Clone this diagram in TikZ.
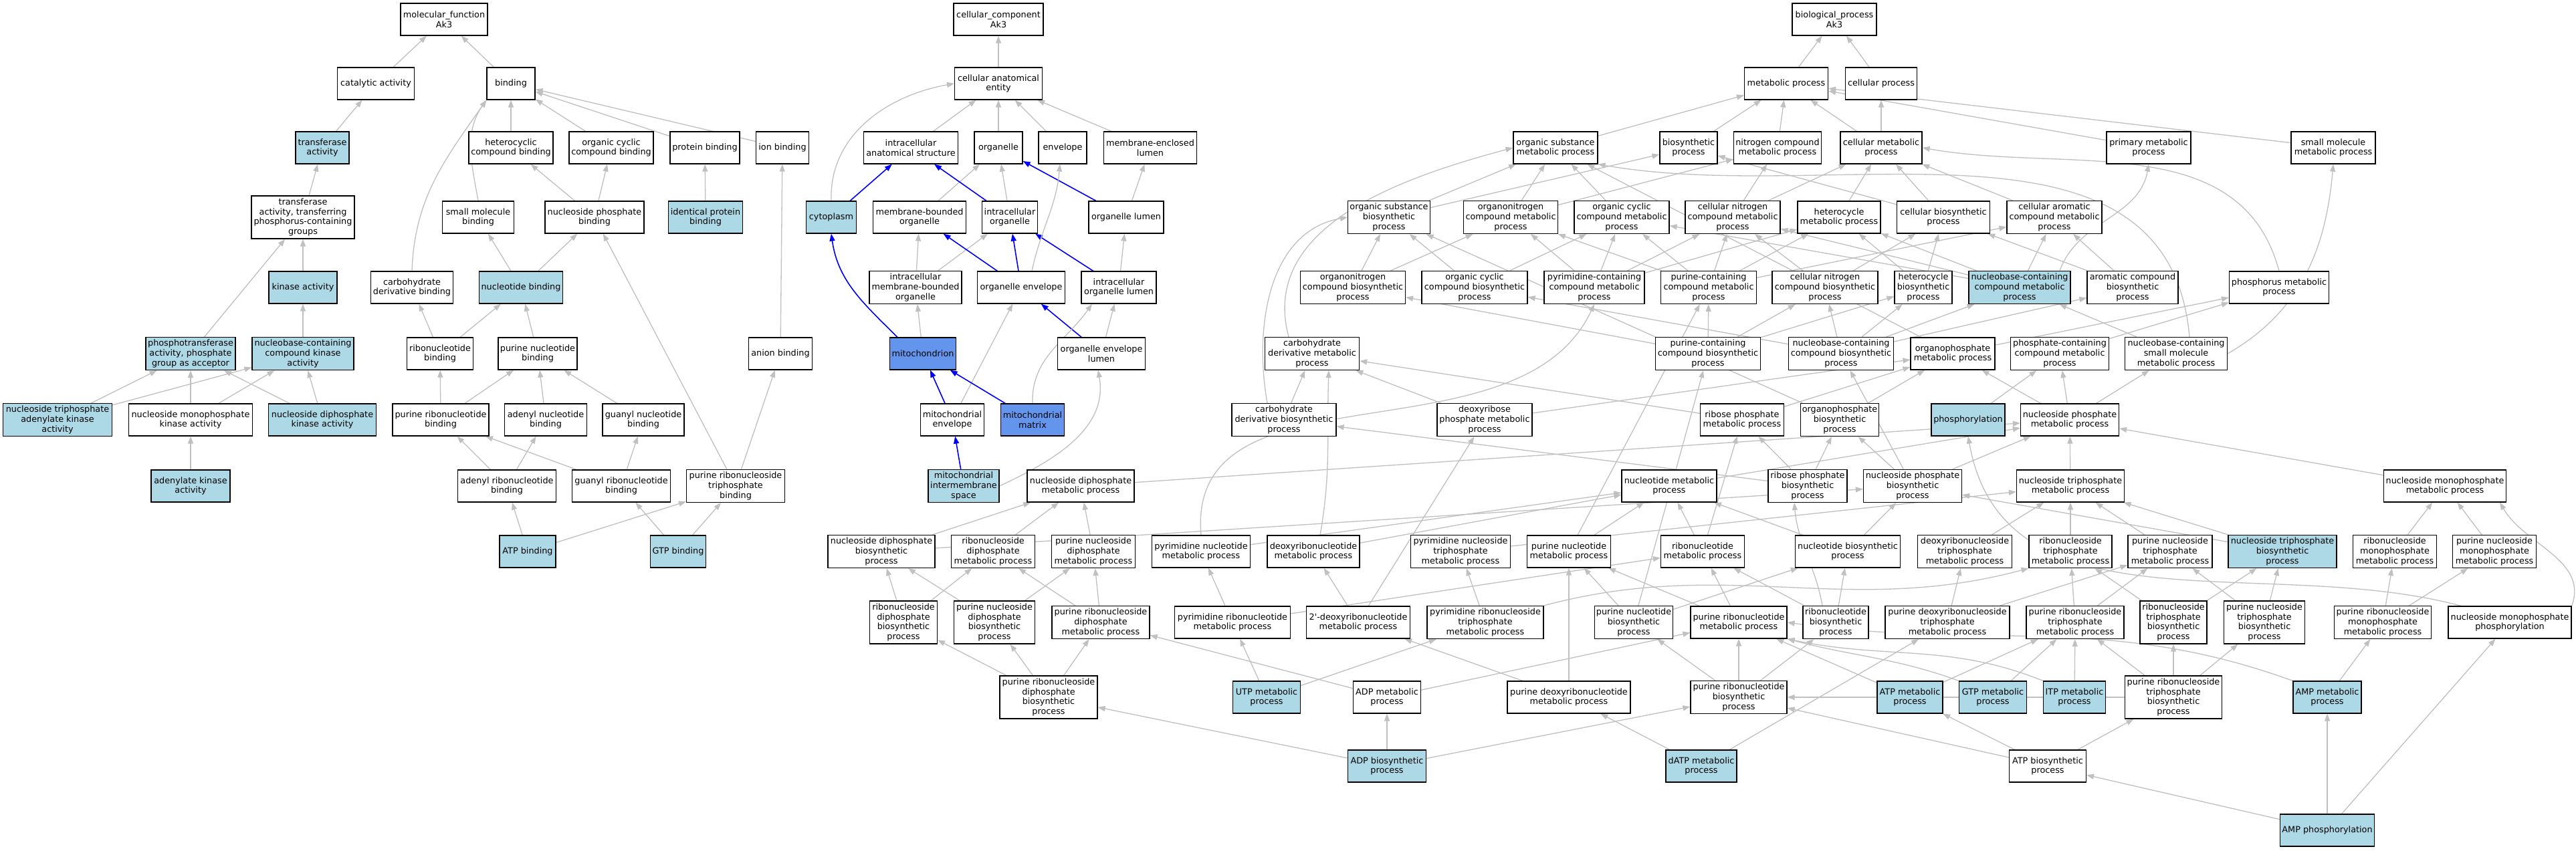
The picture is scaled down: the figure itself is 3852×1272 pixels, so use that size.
\documentclass[tikz,border=0pt]{standalone}
\usepackage{fontspec}
\setmainfont{DejaVu Sans}
\usetikzlibrary{arrows.meta,backgrounds}
\definecolor{lblue}{RGB}{173,216,230}
\definecolor{cblue}{RGB}{100,149,237}
\definecolor{egray}{RGB}{192,192,192}
\begin{document}
\begin{tikzpicture}[x=1pt,y=-1pt,
  box/.style={draw=black, line width=1.2pt, fill=white, align=center, inner sep=0pt,
    minimum height=48pt, font=\fontsize{12.8}{14.8}\selectfont},
  lb/.style={box, fill=lblue},
  cb/.style={box, fill=cblue},
  w/.style={minimum width=#1pt},
  h3/.style={minimum height=49pt},
  h4/.style={minimum height=64pt},
  ge/.style={draw=egray, line width=1.3pt, -{Triangle[length=11pt,width=8pt]}},
  be/.style={draw=blue, line width=1.6pt, -{Triangle[length=11pt,width=8pt]}}]
\useasboundingbox (0,0) rectangle (3852,1272);
% ---------------- molecular function
\node[box,w=130] (mf) at (664,29) {molecular\_function\\Ak3};
\node[box,w=115] (cat) at (562,125) {catalytic activity};
\node[box,w=72] (bind) at (764,125) {binding};
\node[lb,w=80] (trans) at (482,221) {transferase\\activity};
\node[box,w=126] (hetb) at (764,221) {heterocyclic\\compound binding};
\node[box,w=126] (ocb) at (914,221) {organic cyclic\\compound binding};
\node[box,w=104] (protb) at (1054,221) {protein binding};
\node[box,w=79] (ionb) at (1170,221) {ion binding};
\node[box,w=154,h4] (transP) at (453,325) {transferase\\activity, transferring\\phosphorus-containing\\groups};
\node[box,w=107] (smb) at (715,325) {small molecule\\binding};
\node[box,w=148] (npb) at (889,325) {nucleoside phosphate\\binding};
\node[lb,w=111] (idpb) at (1055,325) {identical protein\\binding};
\node[lb,w=102] (kin) at (453,430) {kinase activity};
\node[box,w=123] (cdb) at (616,430) {carbohydrate\\derivative binding};
\node[lb,w=125] (ntb) at (779,430) {nucleotide binding};
\node[box,w=95] (anb) at (1167,529) {anion binding};
\node[lb,w=134,h3] (phos) at (285,529) {phosphotransferase\\activity, phosphate\\group as acceptor};
\node[lb,w=152,h3] (nbk) at (453,529) {nucleobase-containing\\compound kinase\\activity};
\node[box,w=99] (rnb) at (658,529) {ribonucleotide\\binding};
\node[box,w=118] (pnb) at (804,529) {purine nucleotide\\binding};
\node[lb,w=163,h3] (ntak) at (86,628) {nucleoside triphosphate\\adenylate kinase\\activity};
\node[box,w=185] (nmpk) at (285,628) {nucleoside monophosphate\\kinase activity};
\node[lb,w=161] (ndpk) at (482,628) {nucleoside diphosphate\\kinase activity};
\node[box,w=144] (prnb) at (659,628) {purine ribonucleotide\\binding};
\node[box,w=123] (anucb) at (816,628) {adenyl nucleotide\\binding};
\node[box,w=122] (gnucb) at (962,628) {guanyl nucleotide\\binding};
\node[lb,w=118] (adk) at (285,727) {adenylate kinase\\activity};
\node[box,w=147] (arb) at (758,727) {adenyl ribonucleotide\\binding};
\node[box,w=147] (grb) at (929,727) {guanyl ribonucleotide\\binding};
\node[box,w=147,h3] (prtb) at (1100,727) {purine ribonucleoside\\triphosphate\\binding};
\node[lb,w=84] (atpb) at (789,825) {ATP binding};
\node[lb,w=83] (gtpb) at (1014,825) {GTP binding};
% ---------------- cellular component
\node[box,w=134] (cc) at (1493,29) {cellular\_component\\Ak3};
\node[box,w=131] (cae) at (1493,125) {cellular anatomical\\entity};
\node[box,w=141] (ias) at (1362,221) {intracellular\\anatomical structure};
\node[box,w=72] (org) at (1493,221) {organelle};
\node[box,w=72] (env) at (1589,221) {envelope};
\node[box,w=139] (mel) at (1720,221) {membrane-enclosed\\lumen};
\node[lb,w=75] (cyto) at (1243,325) {cytoplasm};
\node[box,w=139] (mbo) at (1375,325) {membrane-bounded\\organelle};
\node[box,w=83] (io) at (1510,325) {intracellular\\organelle};
\node[box,w=112] (ol) at (1684,325) {organelle lumen};
\node[box,w=138,h3] (imbo) at (1369,430) {intracellular\\membrane-bounded\\organelle};
\node[box,w=131] (oe) at (1527,430) {organelle envelope};
\node[box,w=112] (iol) at (1673,430) {intracellular\\organelle lumen};
\node[cb,w=99] (mito) at (1380,529) {mitochondrion};
\node[box,w=131] (oel) at (1647,529) {organelle envelope\\lumen};
\node[box,w=95] (menv) at (1424,628) {mitochondrial\\envelope};
\node[cb,w=95] (mmat) at (1544,628) {mitochondrial\\matrix};
\node[lb,w=106,h3] (mims) at (1441,727) {mitochondrial\\intermembrane\\space};
% ---------------- biological process
\node[box,w=126] (bp) at (2743,29) {biological\_process\\Ak3};
\node[box,w=125] (mp) at (2671,125) {metabolic process};
\node[box,w=107] (cp) at (2813,125) {cellular process};
\node[box,w=126] (osmp) at (2326,221) {organic substance\\metabolic process};
\node[box,w=86] (bsp) at (2525,221) {biosynthetic\\process};
\node[box,w=131] (ncmp) at (2658,221) {nitrogen compound\\metabolic process};
\node[box,w=122] (cmp) at (2813,221) {cellular metabolic\\process};
\node[box,w=126] (pmp) at (3213,221) {primary metabolic\\process};
\node[box,w=126] (smmp) at (3489,221) {small molecule\\metabolic process};
\node[box,w=123,h3] (osbp) at (2077,325) {organic substance\\biosynthetic\\process};
\node[box,w=141,h3] (oncmp) at (2259,325) {organonitrogen\\compound metabolic\\process};
\node[box,w=142,h3] (occmp) at (2425,325) {organic cyclic\\compound metabolic\\process};
\node[box,w=142,h3] (cncmp) at (2591,325) {cellular nitrogen\\compound metabolic\\process};
\node[box,w=124] (hmp) at (2750,325) {heterocycle\\metabolic process};
\node[box,w=139] (cbp) at (2906,325) {cellular biosynthetic\\process};
\node[box,w=142,h3] (cacmp) at (3072,325) {cellular aromatic\\compound metabolic\\process};
\node[box,w=157,h3] (oncbp) at (2023,430) {organonitrogen\\compound biosynthetic\\process};
\node[box,w=158,h3] (occbp) at (2205,430) {organic cyclic\\compound biosynthetic\\process};
\node[box,w=150,h3] (pyccmp) at (2384,430) {pyrimidine-containing\\compound metabolic\\process};
\node[box,w=143,h3] (puccmp) at (2555,430) {purine-containing\\compound metabolic\\process};
\node[box,w=158,h3] (cncbp) at (2729,430) {cellular nitrogen\\compound biosynthetic\\process};
\node[box,w=86,h3] (hbp) at (2876,430) {heterocycle\\biosynthetic\\process};
\node[lb,w=152,h3] (nbcmp) at (3020,430) {nucleobase-containing\\compound metabolic\\process};
\node[box,w=136,h3] (acbp) at (3189,430) {aromatic compound\\biosynthetic\\process};
\node[box,w=149] (phmp) at (3408,430) {phosphorus metabolic\\process};
\node[box,w=141,h3] (cdmp) at (1962,529) {carbohydrate\\derivative metabolic\\process};
\node[box,w=157,h3] (puccbp) at (2554,529) {purine-containing\\compound biosynthetic\\process};
\node[box,w=157,h3] (nbcbp) at (2753,529) {nucleobase-containing\\compound biosynthetic\\process};
\node[box,w=126] (opmp) at (2920,529) {organophosphate\\metabolic process};
\node[box,w=147,h3] (pccmp) at (3080,529) {phosphate-containing\\compound metabolic\\process};
\node[box,w=153,h3] (nbsmmp) at (3254,529) {nucleobase-containing\\small molecule\\metabolic process};
\node[box,w=156,h3] (cdbp) at (1920,628) {carbohydrate\\derivative biosynthetic\\process};
\node[box,w=142,h3] (drpmp) at (2220,628) {deoxyribose\\phosphate metabolic\\process};
\node[box,w=125] (rpmp) at (2605,628) {ribose phosphate\\metabolic process};
\node[box,w=117,h3] (opbp) at (2751,628) {organophosphate\\biosynthetic\\process};
\node[lb,w=110] (phosph) at (2943,628) {phosphorylation};
\node[box,w=147] (nspmp) at (3095,628) {nucleoside phosphate\\metabolic process};
\node[box,w=160] (ndpmp) at (1616,727) {nucleoside diphosphate\\metabolic process};
\node[box,w=142] (ntmp) at (2496,727) {nucleotide metabolic\\process};
\node[box,w=118,h3] (rpbp) at (2703,727) {ribose phosphate\\biosynthetic\\process};
\node[box,w=147,h3] (nspbp) at (2860,727) {nucleoside phosphate\\biosynthetic\\process};
\node[box,w=161] (nstpmp) at (3096,727) {nucleoside triphosphate\\metabolic process};
\node[box,w=183] (nsmpmp) at (3656,727) {nucleoside monophosphate\\metabolic process};
\node[box,w=160,h3] (ndpbp) at (1318,825) {nucleoside diphosphate\\biosynthetic\\process};
\node[box,w=125,h3] (rndpmp) at (1485,825) {ribonucleoside\\diphosphate\\metabolic process};
\node[box,w=125,h3] (pndpmp) at (1635,825) {purine nucleoside\\diphosphate\\metabolic process};
\node[box,w=147] (pyntmp) at (1796,825) {pyrimidine nucleotide\\metabolic process};
\node[box,w=138] (dntmp) at (1964,825) {deoxyribonucleotide\\metabolic process};
\node[box,w=149,h3] (pynstpmp) at (2184,825) {pyrimidine nucleoside\\triphosphate\\metabolic process};
\node[box,w=125] (puntmp) at (2346,825) {purine nucleotide\\metabolic process};
\node[box,w=125] (rntmp) at (2546,825) {ribonucleotide\\metabolic process};
\node[box,w=157] (ntbp) at (2763,825) {nucleotide biosynthetic\\process};
\node[box,w=141,h3] (dnstpmp) at (2938,825) {deoxyribonucleoside\\triphosphate\\metabolic process};
\node[box,w=124,h3] (rnstpmp) at (3096,825) {ribonucleoside\\triphosphate\\metabolic process};
\node[box,w=126,h3] (pnstpmp) at (3245,825) {purine nucleoside\\triphosphate\\metabolic process};
\node[lb,w=162,h3] (nstpbp) at (3413,825) {nucleoside triphosphate\\biosynthetic\\process};
\node[box,w=125,h3] (rnmpmp) at (3581,825) {ribonucleoside\\monophosphate\\metabolic process};
\node[box,w=125,h3] (pnmpmp) at (3730,825) {purine nucleoside\\monophosphate\\metabolic process};
\node[box,w=101,h4] (rndpbp) at (1351,931) {ribonucleoside\\diphosphate\\biosynthetic\\process};
\node[box,w=121,h4] (pndpbp) at (1487,931) {purine nucleoside\\diphosphate\\biosynthetic\\process};
\node[box,w=146,h3] (prndpmp) at (1646,931) {purine ribonucleoside\\diphosphate\\metabolic process};
\node[box,w=173] (pyrntmp) at (1843,931) {pyrimidine ribonucleotide\\metabolic process};
\node[box,w=155] (dntmpb) at (2031,931) {2\textquotesingle-deoxyribonucleotide\\metabolic process};
\node[box,w=174,h3] (pyrnstpmp) at (2221,931) {pyrimidine ribonucleoside\\triphosphate\\metabolic process};
\node[box,w=117,h3] (puntbp) at (2443,931) {purine nucleotide\\biosynthetic\\process};
\node[box,w=144] (prntmp) at (2600,931) {purine ribonucleotide\\metabolic process};
\node[box,w=98,h3] (rntbp) at (2745,931) {ribonucleotide\\biosynthetic\\process};
\node[box,w=186,h3] (pdnstpmp) at (2912,931) {purine deoxyribonucleoside\\triphosphate\\metabolic process};
\node[box,w=146,h3] (prnstpmp) at (3103,931) {purine ribonucleoside\\triphosphate\\metabolic process};
\node[box,w=100,h4] (rnstpbp) at (3250,931) {ribonucleoside\\triphosphate\\biosynthetic\\process};
\node[box,w=121,h4] (pnstpbp) at (3386,931) {purine nucleoside\\triphosphate\\biosynthetic\\process};
\node[box,w=145,h3] (prnmpmp) at (3563,931) {purine ribonucleoside\\monophosphate\\metabolic process};
\node[box,w=184] (nsmpph) at (3753,931) {nucleoside monophosphate\\phosphorylation};
\node[box,w=146,h4] (prndpbp) at (1568,1043) {purine ribonucleoside\\diphosphate\\biosynthetic\\process};
\node[lb,w=101] (utp) at (1894,1043) {UTP metabolic\\process};
\node[box,w=101] (adpmp) at (2074,1043) {ADP metabolic\\process};
\node[box,w=184] (pdntmp) at (2346,1043) {purine deoxyribonucleotide\\metabolic process};
\node[box,w=144,h3] (prntbp) at (2600,1043) {purine ribonucleotide\\biosynthetic\\process};
\node[lb,w=98] (atpmp) at (2856,1043) {ATP metabolic\\process};
\node[lb,w=101] (gtpmp) at (2980,1043) {GTP metabolic\\process};
\node[lb,w=93] (itpmp) at (3102,1043) {ITP metabolic\\process};
\node[box,w=145,h4] (prnstpbp) at (3250,1043) {purine ribonucleoside\\triphosphate\\biosynthetic\\process};
\node[lb,w=102] (ampmp) at (3480,1043) {AMP metabolic\\process};
\node[lb,w=117] (adpbp) at (2074,1146) {ADP biosynthetic\\process};
\node[lb,w=106] (datp) at (2544,1146) {dATP metabolic\\process};
\node[box,w=115] (atpbp) at (3062,1146) {ATP biosynthetic\\process};
\node[lb,w=141] (ampph) at (3480,1242) {AMP phosphorylation};
% ---------------- connectors
\begin{scope}[on background layer]
\fill[white] (0,0) rectangle (3852,1272);
\foreach \a/\b in {cat/mf, bind/mf, trans/cat, transP/trans, kin/transP, phos/transP, nbk/kin,
  ntak/phos, ntak/nbk, nmpk/phos, nmpk/nbk, ndpk/phos, ndpk/nbk, adk/nmpk,
  hetb/bind, ocb/bind, protb/bind, ionb/bind, npb/hetb, npb/ocb, idpb/protb, ntb/smb, ntb/npb,
  rnb/cdb, rnb/ntb, pnb/ntb, anb/ionb, prnb/rnb, prnb/pnb, anucb/pnb, gnucb/pnb,
  arb/prnb, arb/anucb, grb/prnb, grb/gnucb, prtb/npb, prtb/anb, atpb/arb, atpb/prtb, gtpb/grb, gtpb/prtb}
  \draw[ge] (\a) -- (\b);
\draw[ge] (smb.north) to[out=100,in=235] (bind.south west);
\draw[ge] (cdb.north) to[out=88,in=235] (bind.south west);
% cellular component
\foreach \a/\b in {cae/cc, ias/cae, org/cae, env/cae, mel/cae, mbo/org, io/org, ol/mel,
  imbo/mbo, imbo/io, iol/ol, mito/imbo, oel/iol, menv/oe}
  \draw[ge] (\a) -- (\b);
\foreach \a/\b in {cyto/ias, io/ias, ol/org, oe/mbo, oe/io, iol/io, oel/oe, menv/mito, mmat/mito, mims/menv}
  \draw[be] (\a) -- (\b);
\draw[ge] (cyto.north) to[out=92,in=190] (cae.west);
\draw[be] ([xshift=12pt]mito.north west) to[out=135,in=-82] (cyto.south);
\draw[ge] ([xshift=16pt]oe.north) to[out=78,in=-95] ([xshift=-4pt]env.south);
\draw[ge] (mmat.north) to[out=92,in=-125] ([xshift=-40pt]iol.south);
\draw[ge] (mims.east) to[out=25,in=-80] ([xshift=-5pt]oel.south);
% biological process
\foreach \a/\b in {mp/bp, cp/bp, osmp/mp, bsp/mp, ncmp/mp, cmp/mp, cmp/cp, pmp/mp, smmp/mp,
  osbp/osmp, osbp/bsp, oncmp/osmp, oncmp/ncmp, occmp/osmp, cncmp/ncmp, cncmp/cmp, hmp/cmp, cbp/cmp, cbp/bsp, cacmp/cmp,
  oncbp/osbp, oncbp/oncmp, occbp/osbp, occbp/occmp,
  pyccmp/oncmp, pyccmp/occmp, pyccmp/cncmp, pyccmp/hmp,
  puccmp/oncmp, puccmp/occmp, puccmp/cncmp, puccmp/hmp, puccmp/cacmp,
  cncbp/cncmp, cncbp/cbp, hbp/hmp, hbp/cbp,
  nbcmp/hmp, nbcmp/cncmp, nbcmp/occmp, nbcmp/cacmp, acbp/cacmp, acbp/cbp,
  puccbp/puccmp, puccbp/oncbp, puccbp/cncbp, puccbp/hbp,
  nbcbp/nbcmp, nbcbp/cncbp, nbcbp/hbp, nbcbp/acbp, nbcbp/occbp,
  opmp/phmp, opmp/osmp, pccmp/phmp, nbsmmp/nbcmp,
  cdbp/cdmp, drpmp/cdmp, drpmp/opmp, rpmp/cdmp, rpmp/opmp, opbp/opmp, opbp/osbp,
  phosph/pccmp, nspmp/pccmp, nspmp/opmp, nspmp/nbsmmp,
  ndpmp/nspmp, ntmp/nspmp, rpbp/rpmp, rpbp/opbp, rpbp/cdbp,
  nspbp/nspmp, nspbp/opbp, nspbp/nbcbp, nstpmp/nspmp, nsmpmp/nspmp,
  ndpbp/ndpmp, ndpbp/nspbp, rndpmp/ndpmp, pndpmp/ndpmp,
  pyntmp/ntmp, dntmp/ntmp, pynstpmp/nstpmp, puntmp/ntmp, puntmp/puccmp,
  rntmp/ntmp, rntmp/rpmp, ntbp/ntmp, ntbp/nspbp,
  dnstpmp/nstpmp, rnstpmp/nstpmp, pnstpmp/nstpmp, nstpbp/nstpmp, nstpbp/nspbp,
  rnmpmp/nsmpmp, pnmpmp/nsmpmp,
  rndpbp/ndpbp, rndpbp/rndpmp, pndpbp/ndpbp, pndpbp/pndpmp, prndpmp/rndpmp, prndpmp/pndpmp,
  pyrntmp/pyntmp, pyrntmp/rntmp, dntmpb/dntmp, dntmpb/drpmp, pyrnstpmp/pynstpmp,
  puntbp/puntmp, puntbp/ntbp, puntbp/puccbp, prntmp/puntmp, prntmp/rntmp, rntbp/rntmp, rntbp/ntbp,
  pdnstpmp/dnstpmp, pdnstpmp/pnstpmp, prnstpmp/rnstpmp, prnstpmp/pnstpmp,
  rnstpbp/rnstpmp, rnstpbp/nstpbp, pnstpbp/pnstpmp, pnstpbp/nstpbp, prnmpmp/rnmpmp, prnmpmp/pnmpmp,
  prndpbp/rndpbp, prndpbp/pndpbp, prndpbp/prndpmp, utp/pyrntmp, utp/pyrnstpmp,
  adpmp/prndpmp, adpmp/prntmp, pdntmp/dntmpb, pdntmp/puntmp,
  prntbp/puntbp, prntbp/prntmp, prntbp/rntbp, atpmp/prntmp, atpmp/prnstpmp,
  gtpmp/prnstpmp, itpmp/prnstpmp,
  prnstpbp/prnstpmp, prnstpbp/rnstpbp, prnstpbp/pnstpbp, prnstpbp/prntbp,
  ampmp/prnmpmp, adpbp/adpmp, adpbp/prntbp, adpbp/prndpbp, datp/pdntmp, datp/pdnstpmp,
  atpbp/atpmp, atpbp/prnstpbp, atpbp/prntbp, ampph/atpbp, ampph/ampmp, ampph/nsmpph}
  \draw[ge] (\a) -- (\b);
\draw[ge] (phmp.north) to[out=105,in=-10] (cmp.east);
\draw[ge] ([xshift=60pt]nbcmp.north) to[out=70,in=-100] (pmp.south);
\draw[ge] (nbsmmp.east) to[out=30,in=-95] (smmp.south);
\draw[ge] ([xshift=20pt]nbsmmp.north) to[out=95,in=-10] (osmp.south east);
\draw[ge] ([xshift=-35pt]cdmp.north) to[out=105,in=195] (osmp.west);
\draw[ge] ([xshift=-25pt]cdbp.north) to[out=100,in=190] (osbp.west);
\draw[ge] ([xshift=10pt]dntmp.north) to[out=80,in=-92] ([xshift=25pt]cdmp.south);
\draw[ge] (pyntmp.north) to[out=95,in=-115] (pyccmp.south);
\draw[ge] ([xshift=-20pt]rntbp.north) to[out=100,in=-85] ([xshift=-20pt]rpbp.south);
\draw[ge] (nsmpph.north east) to[out=70,in=-60] ([xshift=-10pt]nsmpmp.south east);
\draw[ge] ([xshift=20pt]nsmpph.north west) to[out=165,in=-80] (phosph.south);
\draw[ge] (gtpmp.north west) to[out=160,in=-15] (prntmp.south east);
\draw[ge] (itpmp.north west) to[out=158,in=-12] (prntmp.south east);
\draw[ge] (ampmp.north west) to[out=160,in=-8] (prntmp.east);
\draw[ge] (pyrnstpmp.north east) to[out=15,in=195] (rnstpmp.south west);
\end{scope}
\end{tikzpicture}
\end{document}
